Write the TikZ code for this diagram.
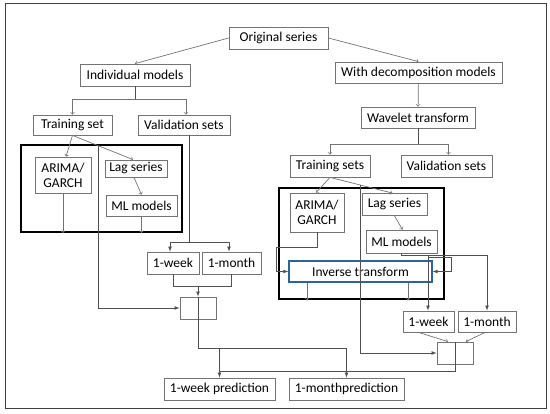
\documentclass[tikz,border=0pt]{standalone}
\usepackage{fontspec}
\setmainfont{Carlito}
\usetikzlibrary{arrows}
\definecolor{linegray}{RGB}{115,115,115}
\definecolor{framegray}{RGB}{64,64,64}
\definecolor{invblue}{RGB}{40,100,160}
\begin{document}
\begin{tikzpicture}[x=1pt, y=-1pt, >=to,
  box/.style={draw=linegray, line width=0.8pt, minimum height=22pt, inner sep=1pt, align=center,
    font=\fontsize{13.5}{15}\selectfont},
  group/.style={draw=black, line width=2pt, inner sep=0pt},
  tip/.style={->, draw=linegray, line width=0.7pt},
  tipb/.style={-latex, draw=linegray!70!black, line width=0.7pt},
  plain/.style={draw=linegray!70!black, line width=0.7pt}]
\useasboundingbox (0,0) rectangle (550,414);
\draw[framegray, line width=1pt] (5,4) rectangle (546,409);

\node[group, minimum width=161, minimum height=87] (groupL) at (101.5,188.5) {};
\node[group, minimum width=165.5, minimum height=111.5] (groupR) at (361.25,243.75) {};

\node[box, minimum width=99] (orig) at (278.5,38) {Original series};
\node[box, minimum width=110] (indiv) at (135,75) {Individual models};
\node[box, minimum width=167, minimum height=21] (decomp) at (418.5,72.5) {With decomposition models};
\node[box, minimum width=114, minimum height=21] (wavelet) at (418,117.5) {Wavelet transform};

\node[box, minimum width=79, minimum height=20] (trainL) at (72.5,125) {Training set};
\node[box, minimum width=92, minimum height=20] (validL) at (184,125) {Validation sets};
\node[box, minimum width=56, minimum height=36] (arimaL) at (63,175) {ARIMA/\\GARCH};
\node[box, minimum width=62, minimum height=17] (lagL) at (136,168.5) {Lag series};
\node[box, minimum width=71, minimum height=21] (mlL) at (141.5,205.5) {ML models};
\node[box, minimum width=52] (weekL) at (173,263) {1-week};
\node[box, minimum width=59] (monthL) at (231.5,263) {1-month};
\node[box, minimum width=36] (sumL) at (198,308) {};

\node[box, minimum width=80] (trainR) at (330,166) {Training sets};
\node[box, minimum width=91] (validR) at (446.5,166) {Validation sets};
\node[box, minimum width=54, minimum height=39] (arimaR) at (317,212.5) {ARIMA/\\GARCH};
\node[box, minimum width=65] (lagR) at (394.5,204.5) {Lag series};
\node[box, minimum width=71, minimum height=23] (mlR) at (401.5,241.5) {ML models};
\node[box, draw=invblue, line width=1.3pt, minimum width=143, minimum height=21] (inv) at (360.5,271.5) {Inverse transform};
\node[box, minimum width=51, minimum height=21] (weekR) at (428.5,321.5) {1-week};
\node[box, minimum width=58, minimum height=21] (monthR) at (487,321.5) {1-month};
\node[box, minimum width=36] (sumR) at (455,353) {};

\node[box, minimum width=111] (predW) at (219.5,389) {1-week prediction};
\node[box, minimum width=115] (predM) at (346.5,389) {1-monthprediction};

% split points
\coordinate (splitI) at (135,99);
\coordinate (splitW) at (418,144);
\coordinate (splitV) at (189,242);
\coordinate (joinL) at (198,286);
\coordinate (outL) at (198,348);
\coordinate (bendA) at (276,247);
\coordinate (splitM) at (428,255.5);
\coordinate (loopM) at (451,271.5);
\coordinate (outR) at (455,371);

% top part
\draw[tip] (orig.west) -- (indiv.north);
\draw[tip] (orig.east) -- (decomp.north);
\draw[tip] (decomp) -- (wavelet);
\draw[plain] (indiv) -- (splitI);
\draw[tip] (splitI) -| (trainL);
\draw[tip] (splitI) -| ([xshift=2pt]validL.north);
\draw[plain] (wavelet) -- (splitW);
\draw[tip] (splitW) -| (trainR);
\draw[tip] (splitW) -| ([xshift=2pt]validR.north);

% individual models
\draw[tip] (trainL.south) -- ([xshift=3pt]arimaL.north);
\draw[tip] (trainL.south) -- ([xshift=-3pt]lagL.north) coordinate[pos=0.433] (brL);
\draw[tip] ([xshift=-2pt]lagL.south) -- (mlL.north);
\draw[tip] (arimaL) -- (arimaL |- groupL.south);
\draw[tip] (mlL) -- (mlL |- groupL.south);
\draw[tipb] (brL) |- (sumL.west);
\draw[plain] (validL.south -| splitV) -- (splitV);
\draw[tipb] (splitV) -| ([xshift=-3pt]weekL.north);
\draw[tipb] (splitV) -| ([xshift=-2.5pt]monthL.north);
\draw[plain] (weekL) |- (joinL);
\draw[plain] (monthL) |- (joinL);
\draw[tipb] (joinL) -- (sumL);
\draw[plain] (sumL.north) -- (outL);
\draw[tipb] (outL) -| (predM);
\draw[tipb] (outL -| predW) -- (predW);

% decomposition models
\draw[tip] (trainR.south) -- ([xshift=-1pt]arimaR.north);
\draw[tip] (trainR.south) -- ([xshift=-2pt]lagR.north) coordinate[pos=0.48] (brR);
\draw[tip] (lagR.south) -- ([xshift=1pt]mlR.north);
\draw[tipb] (arimaR) |- (bendA) |- (inv.west);
\draw[plain] (mlR) |- (splitM);
\draw[tipb] (splitM) -| (monthR);
\draw[tipb] (splitM) -- (splitM |- weekR.north);
\draw[tipb] ([yshift=-2pt]splitM) -| (loopM) -- (inv.east);
\draw[tip] ([xshift=-53.5pt]inv.south) -- ([xshift=-53.5pt]inv.south |- groupR.south);
\draw[tip] ([xshift=47.5pt]inv.south) -- ([xshift=47.5pt]inv.south |- groupR.south);
\draw[tipb] (brR) |- (sumR.west);
\draw[tip] ([xshift=-10pt]weekR.south) -- ([xshift=-7pt]sumR.north);
\draw[tip] ([xshift=-2pt]monthR.south) -- ([xshift=11pt]sumR.north);
\draw[plain] (sumR.north) -- (outR) -- (outR -| predW);
\end{tikzpicture}
\end{document}
